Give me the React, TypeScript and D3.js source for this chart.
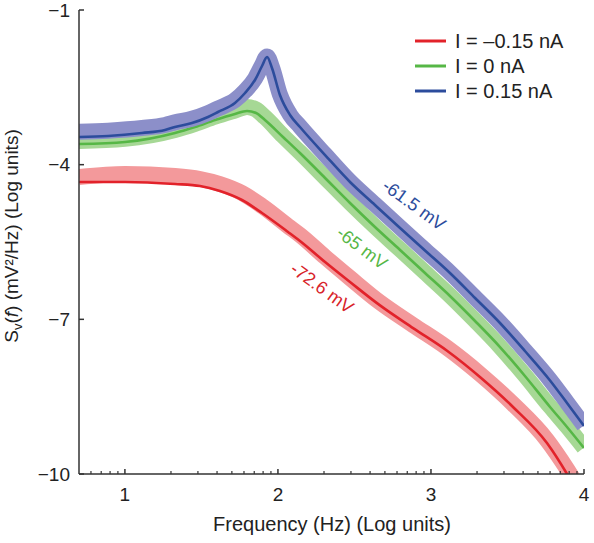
import React from "react";
import * as d3 from "d3";

// x: log10 frequency (Hz), y: log10 power (mV²/Hz)
const redLineX = [0.7, 1.001, 1.327, 1.491, 1.621, 1.765, 1.896, 2.066, 2.144, 2.308, 2.471, 2.667, 2.883, 3.105, 3.32, 3.536, 3.758, 3.889, 3.941];
const redLineY = [-4.336, -4.336, -4.375, -4.414, -4.511, -4.685, -4.938, -5.306, -5.481, -5.888, -6.276, -6.73, -7.17, -7.61, -8.119, -8.7, -9.399, -10.0, -10.27];
const redBandX = [0.7, 1.001, 1.327, 1.491, 1.621, 1.765, 1.896, 2.066, 2.144, 2.308, 2.471, 2.667, 2.883, 3.105, 3.32, 3.536, 3.758, 3.889, 4.0];
const redBandY = [-4.239, -4.181, -4.22, -4.278, -4.375, -4.55, -4.802, -5.19, -5.364, -5.791, -6.198, -6.672, -7.111, -7.552, -8.06, -8.642, -9.341, -9.903, -10.446];

const greenLineX = [0.7, 1.001, 1.327, 1.458, 1.589, 1.719, 1.798, 1.857, 1.915, 2.033, 2.144, 2.308, 2.471, 2.634, 2.798, 2.961, 3.124, 3.288, 3.451, 3.614, 3.778, 3.889, 4.0];
const greenLineY = [-3.599, -3.56, -3.386, -3.269, -3.134, -3.017, -2.959, -2.998, -3.134, -3.463, -3.774, -4.259, -4.744, -5.209, -5.655, -6.101, -6.547, -7.032, -7.537, -8.099, -8.7, -9.088, -9.496];
const greenBandX = [0.7, 1.001, 1.327, 1.458, 1.589, 1.719, 1.798, 1.857, 1.915, 2.033, 2.144, 2.308, 2.471, 2.634, 2.798, 2.961, 3.124, 3.288, 3.451, 3.614, 3.778, 3.889, 4.0];
const greenBandY = [-3.54, -3.5, -3.33, -3.21, -3.07, -2.95, -2.88, -2.93, -3.08, -3.44, -3.76, -4.25, -4.735, -5.2, -5.645, -6.09, -6.537, -7.022, -7.527, -8.089, -8.69, -9.078, -9.486];

const blueLineX = [0.7, 0.89, 1.112, 1.262, 1.327, 1.438, 1.543, 1.608, 1.719, 1.785, 1.85, 1.896, 1.929, 1.961, 2.013, 2.079, 2.144, 2.308, 2.471, 2.634, 2.798, 2.961, 3.124, 3.288, 3.451, 3.614, 3.778, 3.889, 4.0];
const blueLineY = [-3.463, -3.444, -3.386, -3.328, -3.269, -3.192, -3.075, -2.979, -2.804, -2.61, -2.358, -2.086, -1.912, -2.125, -2.649, -3.037, -3.269, -3.813, -4.336, -4.782, -5.228, -5.665, -6.101, -6.586, -7.071, -7.614, -8.186, -8.623, -9.069];
const blueBandX = [0.7, 0.89, 1.112, 1.262, 1.327, 1.438, 1.543, 1.608, 1.719, 1.785, 1.85, 1.896, 1.929, 1.961, 2.013, 2.079, 2.144, 2.308, 2.471, 2.634, 2.798, 2.961, 3.124, 3.288, 3.451, 3.614, 3.778, 3.889, 4.0];
const blueBandY = [-3.36, -3.34, -3.29, -3.23, -3.18, -3.11, -3.0, -2.91, -2.75, -2.57, -2.33, -2.07, -1.9, -2.11, -2.64, -3.03, -3.26, -3.803, -4.326, -4.772, -5.218, -5.655, -6.091, -6.576, -7.061, -7.604, -8.176, -8.613, -9.059];

const xTicks = [1, 2, 3, 4];
const yTicks = [-1, -4, -7, -10];
const legendLabels = ["I = \u20130.15 nA", "I = 0 nA", "I = 0.15 nA"];
const voltageLabels = ["-72.6 mV", "-65 mV", "-61.5 mV"];

const W = 594;
const H = 543;
const left = 79;
const right = 584;
const top = 10;
const bottom = 474;

const FONT = "'Liberation Sans', Arial, Helvetica, sans-serif";

export default function App() {
  const x = d3.scaleLinear().domain([0.7, 4]).range([left, right]);
  const y = d3.scaleLinear().domain([-10, -1]).range([bottom, top]);

  const line = d3
    .line<[number, number]>()
    .x((d) => x(d[0]))
    .y((d) => y(d[1]))
    .curve(d3.curveMonotoneX);

  const zip = (a: number[], b: number[]) => a.map((v, i) => [v, b[i]] as [number, number]);

  const series = [
    { lx: redLineX, ly: redLineY, bx: redBandX, by: redBandY, line: "#e2222a", band: "#f3999b", text: "#d8232a" },
    { lx: greenLineX, ly: greenLineY, bx: greenBandX, by: greenBandY, line: "#56b746", band: "#a6d895", text: "#56b746" },
    { lx: blueLineX, ly: blueLineY, bx: blueBandX, by: blueBandY, line: "#2c4c9c", band: "#8c8fc9", text: "#2c4c9c" },
  ];

  const minor: number[] = [];
  for (let n = 0; n <= 3; n++) {
    for (let k = 2; k <= 9; k++) {
      const v = n + Math.log10(k);
      if (v >= 0.7 && v <= 4) minor.push(v);
    }
  }

  const labelPos = [
    { cx: 322, cy: 288, rot: 36 },
    { cx: 362, cy: 248, rot: 37 },
    { cx: 414, cy: 205, rot: 36 },
  ];

  return (
    <svg width={W} height={H} style={{ position: "absolute", left: 0, top: 0, background: "#fff" }} fontFamily={FONT}>
      <defs>
        <clipPath id="plot">
          <rect x={left} y={top - 5} width={right - left} height={bottom - top + 5} />
        </clipPath>
      </defs>
      <g clipPath="url(#plot)">
        {series.map((s, i) => (
          <g key={i}>
            <path d={line(zip(s.bx, s.by)) || ""} fill="none" stroke={s.band} strokeWidth={16} strokeLinejoin="round" />
            <path d={line(zip(s.lx, s.ly)) || ""} fill="none" stroke={s.line} strokeWidth={2.6} strokeLinejoin="round" />
          </g>
        ))}
      </g>

      <g stroke="#333" strokeWidth={1.5} fill="none">
        <line x1={left} y1={top} x2={left} y2={bottom} />
        <line x1={left} y1={bottom} x2={right} y2={bottom} />
        {yTicks.map((t) => (
          <line key={t} x1={left} x2={left + 5} y1={y(t)} y2={y(t)} />
        ))}
        {xTicks.map((t) => (
          <line key={t} x1={x(t)} x2={x(t)} y1={bottom} y2={bottom - 5} />
        ))}
        {minor.map((t) => (
          <line key={t} x1={x(t)} x2={x(t)} y1={bottom} y2={bottom - 3} strokeWidth={1.2} />
        ))}
      </g>
      <g fill="#222">
        {yTicks.map((t) => (
          <text key={t} x={left - 9} y={y(t)} textAnchor="end" dominantBaseline="central" fontSize={19}>
            {"\u2212" + Math.abs(t)}
          </text>
        ))}
        {xTicks.map((t) => (
          <text key={t} x={x(t)} y={501} textAnchor="middle" fontSize={19}>
            {t}
          </text>
        ))}
        <text x={332} y={531} textAnchor="middle" fontSize={20}>
          Frequency (Hz) (Log units)
        </text>
        <text transform={`translate(18, 236) rotate(-90)`} textAnchor="middle" fontSize={19}>
          S
          <tspan fontSize={13} dy={4}>v</tspan>
          <tspan dy={-4}>(</tspan>
          <tspan fontStyle="italic">f</tspan>
          {") (mV\u00b2/Hz) (Log units)"}
        </text>
      </g>

      {series.map((s, i) => (
        <g key={i}>
          <line x1={415} x2={446} y1={41 + i * 25} y2={41 + i * 25} stroke={s.line} strokeWidth={3} />
          <text x={455} y={41 + i * 25} dominantBaseline="central" fontSize={20} fill="#222">
            {legendLabels[i]}
          </text>
        </g>
      ))}

      {series.map((s, i) => (
        <text
          key={i}
          transform={`translate(${labelPos[i].cx}, ${labelPos[i].cy}) rotate(${labelPos[i].rot})`}
          textAnchor="middle"
          dominantBaseline="central"
          fontSize={18}
          fill={s.text}
        >
          {voltageLabels[i]}
        </text>
      ))}
    </svg>
  );
}
